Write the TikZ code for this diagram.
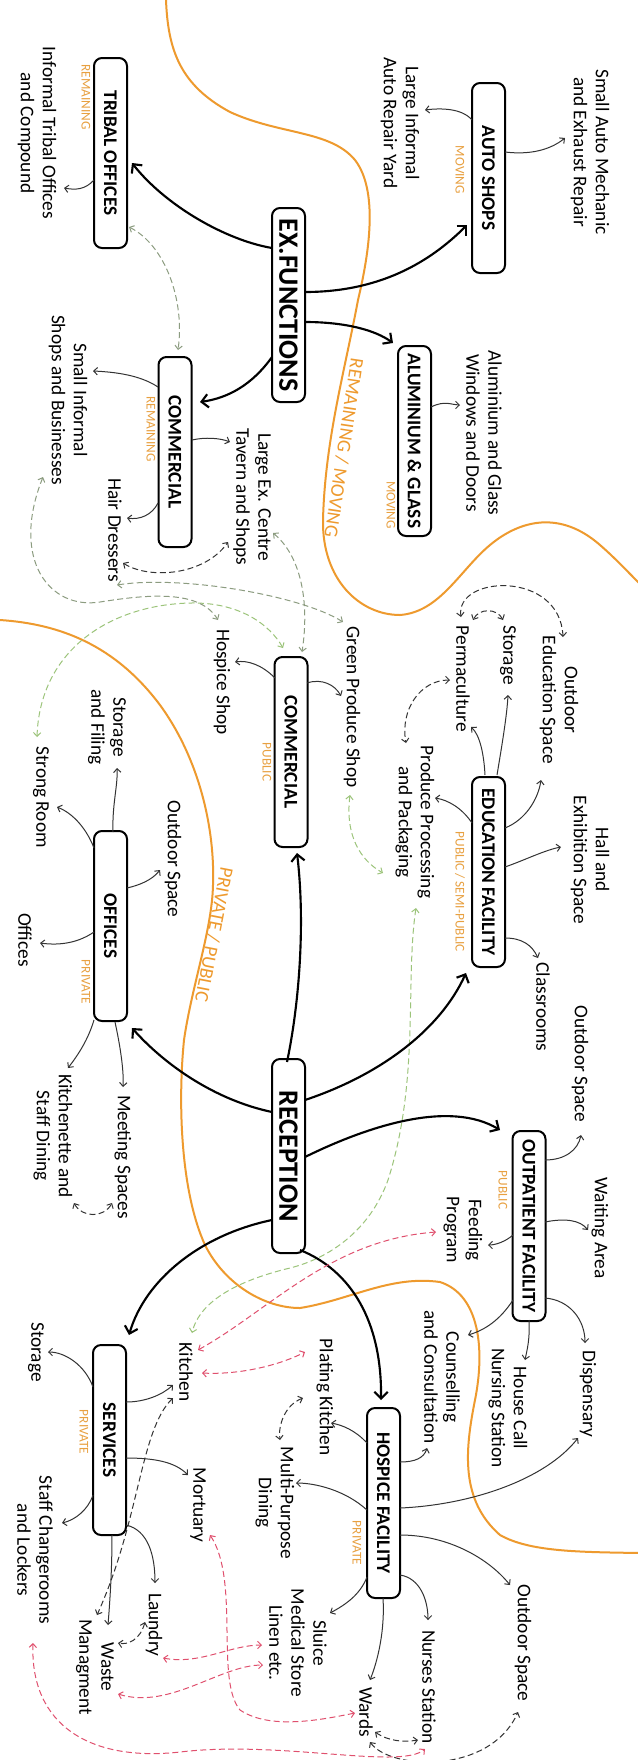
\documentclass[tikz,border=0pt]{standalone}
\usepackage{fontspec}
\setmainfont{Carlito}
\usetikzlibrary{arrows.meta,calc}
\definecolor{orl}{HTML}{EE9A2E}
\definecolor{tagc}{HTML}{E8A040}
\definecolor{lnc}{HTML}{333333}
\definecolor{grn}{HTML}{9CC47A}
\definecolor{ggr}{HTML}{8C9C80}
\definecolor{redd}{HTML}{E0506E}
\begin{document}
\begin{tikzpicture}[x=0.75pt,y=-0.75pt,
  box/.style={draw, fill=white, line width=1.5pt, rounded corners=6pt, minimum width=142.5pt, minimum height=24.75pt, inner sep=0pt, font=\bfseries\fontsize{14.5}{16}\selectfont, rotate=-90},
  bigbox/.style={box, minimum width=145.5pt, font=\bfseries\fontsize{21}{23}\selectfont},
  lbl/.style={align=center, inner sep=0pt, font=\fontsize{14.5}{16.5}\selectfont, rotate=-90},
  tag/.style={text=tagc, inner sep=0pt, font=\fontsize{10}{12}\selectfont, rotate=-90},
  zone/.style={text=orl, inner sep=0pt, font=\fontsize{14.5}{16}\selectfont},
  orc/.style={draw=orl, line width=1.5pt},
  thn/.style={draw=lnc, line width=0.75pt, -{Straight Barb[length=2.8pt,width=5.5pt]}},
  dsh/.style={draw=lnc, line width=0.75pt, dash pattern=on 4.5pt off 2.5pt, {Straight Barb[length=2.8pt,width=5.5pt]}-{Straight Barb[length=2.8pt,width=5.5pt]}},
  dgr/.style={dsh, draw=grn},
  dgg/.style={dsh, draw=ggr},
  drd/.style={dsh, draw=redd},
  thk/.style={draw=black, line width=1.6pt, -{Straight Barb[length=5pt,width=10pt]}}
]
\useasboundingbox (0,0) rectangle (638,1760);
\fill[white] (0,0) rectangle (638,1760);

% zone boundaries
\draw[orc] (166,0) .. controls (168,50) and (180,85) .. (230,112) .. controls (280,135) and (330,130) .. (355,160) .. controls (378,190) and (370,250) .. (358,300) .. controls (345,370) and (325,440) .. (323,520) .. controls (322,580) and (360,615) .. (400,615) .. controls (440,612) and (460,570) .. (490,545) .. controls (520,520) and (560,510) .. (600,545) .. controls (615,558) and (628,572) .. (640,584);
\draw[orc] (0,620) .. controls (60,624) and (115,645) .. (160,705) .. controls (200,760) and (215,830) .. (213,885) .. controls (212,930) and (192,985) .. (184,1040) .. controls (178,1100) and (180,1190) .. (205,1245) .. controls (225,1285) and (265,1308) .. (300,1308) .. controls (350,1300) and (390,1275) .. (440,1282) .. controls (480,1295) and (485,1350) .. (475,1400) .. controls (465,1450) and (460,1500) .. (500,1535) .. controls (530,1552) and (580,1552) .. (640,1553);
\node[zone, rotate=-98.5] (z1) at (344,448) {REMAINING / MOVING};
\node[zone, rotate=-101] (z2) at (214,935) {PRIVATE / PUBLIC};

% boxes
\node[bigbox] (exf) at (288.5,305) {EX.FUNCTIONS};
\node[box] (tribal) at (110.5,153) {TRIBAL OFFICES};
\node[box] (auto) at (488.5,178) {AUTO SHOPS};
\node[box] (alu) at (414.5,441) {ALUMINIUM \& GLASS};
\node[box] (comr) at (175,452) {COMMERCIAL};
\node[box] (comp) at (291,752) {COMMERCIAL};
\node[box] (edu) at (488.5,872) {EDUCATION FACILITY};
\node[box] (off) at (110.5,926) {OFFICES};
\node[bigbox] (rec) at (288.5,1156) {RECEPTION};
\node[box] (outp) at (529,1226) {OUTPATIENT FACILITY};
\node[box] (hosp) at (383.5,1503) {HOSPICE FACILITY};
\node[box] (serv) at (109.5,1440) {SERVICES};

% tags
\node[tag] (tg1) at (86,97) {REMAINING};
\node[tag] (tg2) at (460,170) {MOVING};
\node[tag] (tg3) at (391,505) {MOVING};
\node[tag] (tg4) at (151,429) {REMAINING};
\node[tag] (tg5) at (267,762) {PUBLIC};
\node[tag] (tg6) at (460,892) {PUBLIC / SEMI-PUBLIC};
\node[tag] (tg7) at (86,982) {PRIVATE};
\node[tag] (tg8) at (503,1190) {PUBLIC};
\node[tag] (tg9) at (357,1543) {PRIVATE};
\node[tag] (tg10) at (84,1432) {PRIVATE};

% labels
\node[lbl] (t_trib) at (37,133) {Informal Tribal Offices\\and Compound};
\node[lbl] (t_sam) at (590,152) {Small Auto Mechanic\\and Exhaust Repair};
\node[lbl] (t_lar) at (400,123) {Large Informal\\Auto Repair Yard};
\node[lbl] (t_alu) at (484,433) {Aluminium and Glass\\Windows and Doors};
\node[lbl] (t_smi) at (68,400) {Small Informal\\Shops and Businesses};
\node[lbl] (t_lec) at (252,497) {Large Ex. Centre\\Tavern and Shops};
\node[lbl] (t_hair) at (115,530) {Hair Dressers};
\node[lbl] (t_hos) at (222,682) {Hospice Shop};
\node[lbl] (t_gps) at (352,707) {Green Produce Shop};
\node[lbl] (t_oes) at (559,700) {Outdoor\\Education Space};
\node[lbl] (t_sto) at (508,655) {Storage};
\node[lbl] (t_per) at (463,679) {Permaculture};
\node[lbl] (t_ppp) at (415,822) {Produce Processing\\and Packaging};
\node[lbl] (t_hall) at (590,860) {Hall and\\Exhibition Space};
\node[lbl] (t_cls) at (543,1007) {Classrooms};
\node[lbl] (t_os1) at (580,1064) {Outdoor Space};
\node[lbl] (t_saf) at (107,727) {Storage\\and Filing};
\node[lbl] (t_str) at (41,797) {Strong Room};
\node[lbl] (t_os0) at (173,859) {Outdoor Space};
\node[lbl] (t_ofs) at (25,940) {Offices};
\node[lbl] (t_kit) at (53,1136) {Kitchenette and\\Staff Dining};
\node[lbl] (t_mee) at (123,1157) {Meeting Spaces};
\node[lbl] (t_wai) at (600,1228) {Waiting Area};
\node[lbl] (t_fee) at (463,1230) {Feeding\\Program};
\node[lbl] (t_cou) at (442,1377) {Counselling\\and Consultation};
\node[lbl] (t_hcn) at (508,1408) {House Call\\Nursing Station};
\node[lbl] (t_dis) at (588,1394) {Dispensary};
\node[lbl] (t_os2) at (523,1643) {Outdoor Space};
\node[lbl] (t_nur) at (429,1687) {Nurses Station};
\node[lbl] (t_war) at (366,1712) {Wards};
\node[lbl] (t_slu) at (298,1643) {Sluice\\Medical Store\\Linen etc.};
\node[lbl] (t_pla) at (325,1397) {Plating Kitchen};
\node[lbl] (t_mpd) at (275,1503) {Multi-Purpose\\Dining};
\node[lbl] (t_kic) at (186,1372) {Kitchen};
\node[lbl] (t_sto2) at (36,1352) {Storage};
\node[lbl] (t_mor) at (198,1505) {Mortuary};
\node[lbl] (t_sch) at (35,1550) {Staff Changerooms\\and Lockers};
\node[lbl] (t_lau) at (154,1625) {Laundry};
\node[lbl] (t_was) at (95,1667) {Waste\\Managment};

% ex functions
\draw[thk] ($(exf)+(-16.5,-57)$) .. controls (225,240) and (165,205) .. ($(tribal)+(21.5,10)$);
\draw[thk] ($(exf)+(16.5,-13)$) .. controls (380,292) and (430,262) .. ($(auto)+(-21.5,47)$);
\draw[thk] ($(exf)+(16.5,17)$) .. controls (345,322) and (375,330) .. ($(alu)+(-21.5,-98)$);
\draw[thk] ($(exf)+(-16.5,52)$) .. controls (252,385) and (228,398) .. ($(comr)+(25,-50)$);
\draw[thn] ($(tribal)+(-16.5,27)$) .. controls (85,190) and (75,190) .. ($(t_trib)+(27,55)$);
\draw[thn] ($(auto)+(16.5,-26)$) .. controls (530,155) and (550,150) .. ($(t_sam)+(-25,-14)$);
\draw[thn] ($(auto)+(-16.5,-58)$) .. controls (462,108) and (440,108) .. ($(t_lar)+(25,-13)$);
\draw[thn] ($(alu)+(16.5,-34)$) .. controls (445,400) and (452,405) .. ($(t_alu)+(-24,-28)$);
\draw[thn] ($(comr)+(-17,-65)$) .. controls (140,375) and (115,372) .. ($(t_smi)+(25,-29)$);
\draw[thn] ($(comr)+(17,-12)$) .. controls (205,437) and (220,438) .. ($(t_lec)+(-22,-55)$);
\draw[thn] ($(comr)+(-17,51)$) .. controls (152,515) and (140,520) .. ($(t_hair)+(12,-12)$);
\draw[dsh] ($(t_hair)+(8,33)$) .. controls (150,580) and (205,575) .. ($(t_lec)+(-24,45)$);
\draw[dgg] ($(tribal)+(18.5,74)$) .. controls (165,245) and (185,300) .. ($(comr)+(3,-102)$);

% commercial public
\draw[thn] ($(comp)+(-16,-74)$) .. controls (262,665) and (248,660) .. ($(t_hos)+(13,-20)$);
\draw[thn] ($(comp)+(16,-69)$) .. controls (322,678) and (335,685) .. ($(t_gps)+(-11,-11)$);
\draw[dgg] ($(t_lec)+(21,36)$) .. controls (300,555) and (310,600) .. ($(comp)+(11,-100)$);
\draw[dgr] ($(t_str)+(-4,-60)$) .. controls (40,650) and (110,605) .. (190,603) .. controls (240,602) and (270,625) .. ($(comp)+(-8,-104)$);
\draw[dgg] ($(t_smi)+(-25,77)$) .. controls (10,560) and (50,610) .. (100,602) .. controls (150,594) and (200,590) .. ($(t_hos)+(-4,-62)$);
\draw[dgg] ($(t_hair)+(2,55)$) .. controls (180,575) and (300,595) .. ($(t_gps)+(-9,-85)$);

% education
\draw[thn] ($(edu)+(16.5,-44)$) .. controls (525,820) and (538,800) .. ($(t_oes)+(-18,80)$);
\draw[thn] ($(edu)+(16.5,-5)$) .. controls (525,860) and (545,850) .. ($(t_hall)+(-29,-13)$);
\draw[thn] ($(edu)+(8.5,-97)$) .. controls (502,745) and (507,715) .. ($(t_sto)+(0,40)$);
\draw[thn] ($(edu)+(-3.5,-97)$) .. controls (484,755) and (480,735) .. ($(t_per)+(8,48)$);
\draw[thn] ($(edu)+(-16.5,-49)$) .. controls (462,808) and (448,800) .. ($(t_ppp)+(20,-24)$);
\draw[thn] ($(edu)+(16.5,66)$) .. controls (522,938) and (532,945) .. ($(t_cls)+(-5,-49)$);
\draw[dsh] ($(t_per)+(-13,1)$) .. controls (420,680) and (400,710) .. ($(t_ppp)+(-9,-79)$);
\draw[dsh] ($(t_sto)+(-5,-35)$) .. controls (497,608) and (479,608) .. ($(t_per)+(10,-59)$);
\draw[dsh] ($(t_per)+(-2,-62)$) .. controls (455,575) and (560,570) .. ($(t_oes)+(4,-63)$);
\draw[dgr] ($(t_gps)+(-2,88)$) .. controls (345,835) and (360,860) .. ($(t_ppp)+(-32,51)$);
\draw[dgr] ($(t_ppp)+(1,86)$) .. controls (405,980) and (420,1080) .. (388,1180) .. controls (370,1230) and (330,1258) .. (290,1268) .. controls (240,1280) and (200,1300) .. ($(t_kic)+(6,-39)$);

% offices
\draw[thn] ($(off)+(16.5,-38)$) .. controls (140,885) and (152,880) .. ($(t_os0)+(-13,11)$);
\draw[thn] ($(off)+(2.5,-94)$) .. controls (112,805) and (118,785) .. ($(t_saf)+(10,41)$);
\draw[thn] ($(off)+(-16.5,-78)$) .. controls (85,825) and (70,812) .. ($(t_str)+(16,10)$);
\draw[thn] ($(off)+(-16.5,6)$) .. controls (75,945) and (55,945) .. ($(t_ofs)+(15,3)$);
\draw[thn] ($(off)+(-16.5,94)$) .. controls (88,1040) and (78,1055) .. ($(t_kit)+(15,-68)$);
\draw[thn] ($(off)+(4.5,96)$) .. controls (120,1045) and (124,1070) .. ($(t_mee)+(0,-70)$);
\draw[dsh] ($(t_kit)+(21,67)$) .. controls (82,1218) and (104,1218) .. ($(t_mee)+(-11,46)$);

% reception
\draw[thk] ($(rec)+(-1.5,-94)$) .. controls (300,1000) and (305,920) .. ($(comp)+(6,101)$);
\draw[thk] ($(rec)+(-16.5,-44)$) .. controls (215,1100) and (165,1065) .. ($(off)+(21.5,102)$);
\draw[thk] ($(rec)+(16.5,-56)$) .. controls (380,1075) and (440,1030) .. ($(edu)+(-22.5,101)$);
\draw[thk] ($(rec)+(16.5,1)$) .. controls (370,1125) and (450,1100) .. ($(outp)+(-29,-96)$);
\draw[thk] ($(rec)+(11.5,94)$) .. controls (350,1270) and (382,1320) .. ($(hosp)+(-2.5,-103)$);
\draw[thk] ($(rec)+(-16.5,64)$) .. controls (200,1235) and (145,1280) .. ($(serv)+(19.5,-105)$);

% outpatient
\draw[thn] ($(outp)+(16,-66)$) .. controls (565,1160) and (578,1150) .. ($(t_os1)+(1,71)$);
\draw[thn] ($(outp)+(16,-4)$) .. controls (565,1218) and (580,1220) .. ($(t_wai)+(-12,2)$);
\draw[thn] ($(outp)+(-16,9)$) .. controls (505,1242) and (495,1245) .. ($(t_fee)+(25,15)$);
\draw[thn] ($(outp)+(16,72)$) .. controls (570,1300) and (585,1320) .. ($(t_dis)+(-3,-51)$);
\draw[thn] ($(outp)+(0,94)$) .. controls (530,1340) and (527,1350) .. ($(t_hcn)+(17,-48)$);
\draw[thn] ($(outp)+(-16,74)$) .. controls (500,1320) and (485,1330) .. ($(t_cou)+(26,-42)$);

% hospice
\draw[thn] ($(hosp)+(-16.5,-60)$) .. controls (355,1430) and (342,1425) .. ($(t_pla)+(6,26)$);
\draw[thn] ($(hosp)+(16.5,-41)$) .. controls (415,1462) and (424,1458) .. ($(t_cou)+(-15,71)$);
\draw[thn] ($(hosp)+(16.5,5)$) .. controls (470,1505) and (545,1480) .. ($(t_dis)+(-10,44)$);
\draw[thn] ($(hosp)+(16.5,32)$) .. controls (450,1535) and (490,1560) .. ($(t_os2)+(-13,-58)$);
\draw[thn] ($(hosp)+(16.5,72)$) .. controls (420,1578) and (428,1600) .. ($(t_nur)+(-1,-67)$);
\draw[thn] ($(hosp)+(-0.5,95)$) .. controls (385,1630) and (378,1660) .. ($(t_war)+(4,-32)$);
\draw[thn] ($(hosp)+(-16.5,74)$) .. controls (360,1595) and (345,1605) .. ($(t_slu)+(32,-30)$);
\draw[thn] ($(hosp)+(-16.5,7)$) .. controls (345,1490) and (315,1483) .. ($(t_mpd)+(21,-20)$);
\draw[dsh] ($(t_pla)+(-22,1)$) .. controls (285,1405) and (278,1425) .. ($(t_mpd)+(5,-63)$);
\draw[dsh] ($(t_war)+(9,20)$) .. controls (390,1742) and (405,1742) .. ($(t_nur)+(-11,53)$);
\draw[dsh] ($(t_war)+(4,30)$) .. controls (390,1770) and (490,1775) .. ($(t_os2)+(-5,69)$);

% services
\draw[thn] ($(serv)+(-16.5,-53)$) .. controls (85,1365) and (65,1352) .. ($(t_sto2)+(12,0)$);
\draw[thn] ($(serv)+(16.5,-38)$) .. controls (145,1402) and (162,1395) .. ($(t_kic)+(-13,13)$);
\draw[thn] ($(serv)+(16.5,18)$) .. controls (155,1458) and (175,1462) .. ($(t_mor)+(-10,-30)$);
\draw[thn] ($(serv)+(-16.5,55)$) .. controls (88,1510) and (75,1520) .. ($(t_sch)+(27,-27)$);
\draw[thn] ($(serv)+(16.5,85)$) .. controls (148,1530) and (155,1555) .. ($(t_lau)+(1,-42)$);
\draw[thn] ($(serv)+(2.5,95)$) .. controls (112,1570) and (110,1600) .. ($(t_was)+(13,-42)$);
\draw[dsh] ($(t_kic)+(-13,26)$) .. controls (140,1430) and (140,1520) .. ($(t_was)+(2,-52)$);
\draw[dsh] ($(t_lau)+(-9,-3)$) .. controls (140,1640) and (128,1645) .. ($(t_was)+(23,-24)$);

% red links
\draw[drd] ($(t_kic)+(12,-22)$) .. controls (270,1310) and (330,1240) .. ($(t_fee)+(-27,2)$);
\draw[drd] ($(t_kic)+(16,1)$) .. controls (240,1375) and (280,1365) .. ($(t_pla)+(-20,-45)$);
\draw[drd] ($(t_mor)+(12,30)$) .. controls (240,1580) and (215,1680) .. (240,1710) .. controls (270,1730) and (320,1720) .. ($(t_war)+(-11,1)$);
\draw[drd] ($(t_lau)+(9,33)$) .. controls (200,1665) and (230,1645) .. ($(t_slu)+(-36,2)$);
\draw[drd] ($(t_was)+(23,27)$) .. controls (170,1710) and (220,1665) .. ($(t_slu)+(-35,22)$);
\draw[drd] ($(t_sch)+(-2,93)$) .. controls (30,1725) and (90,1762) .. (180,1752) .. controls (280,1740) and (400,1770) .. ($(t_nur)+(-4,62)$);
\end{tikzpicture}
\end{document}
